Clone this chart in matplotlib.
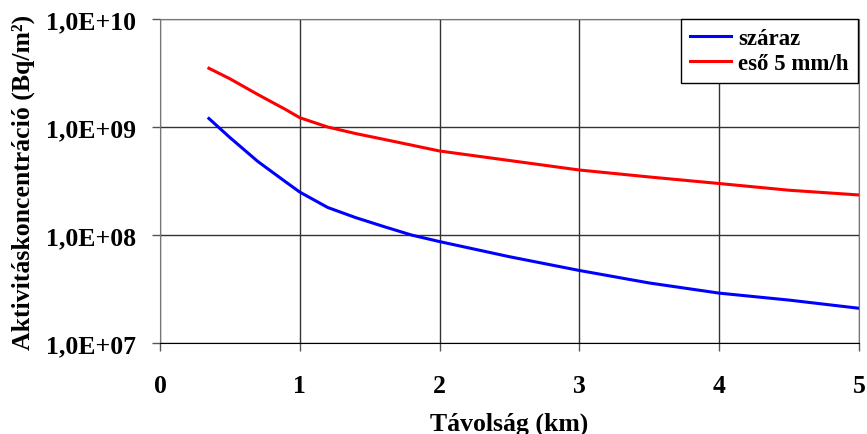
import math

import matplotlib
matplotlib.use("Agg")
import matplotlib.pyplot as plt
from matplotlib.ticker import FixedLocator, FuncFormatter, NullLocator

# distance (km) and deposited activity (Bq/m2)
distance = [0.35, 0.5, 0.7, 0.9, 1.0, 1.2, 1.4, 1.6, 1.8, 2.0, 2.5, 3.0, 3.5, 4.0, 4.5, 5.0]
dry = [1.2e9, 8.0e8, 4.8e8, 3.1e8, 2.5e8, 1.8e8, 1.45e8, 1.2e8, 1.0e8, 8.7e7,
       6.3e7, 4.7e7, 3.6e7, 2.9e7, 2.5e7, 2.1e7]
rain = [3.5e9, 2.8e9, 2.0e9, 1.45e9, 1.22e9, 1.0e9, 8.7e8, 7.7e8, 6.8e8, 6.0e8,
        4.9e8, 4.0e8, 3.45e8, 3.0e8, 2.6e8, 2.35e8]

x_ticks = [0, 1, 2, 3, 4, 5]
y_ticks = [1e7, 1e8, 1e9, 1e10]

plt.rcParams["font.family"] = ["Liberation Serif", "DejaVu Serif"]
plt.rcParams["font.weight"] = "bold"

fig = plt.figure(figsize=(8.67, 4.35), dpi=100)
ax = fig.add_axes([0.1845, 0.209, 0.8063, 0.745])

ax.plot(distance, dry, color="#0000ff", lw=2.2, label="száraz")
ax.plot(distance, rain, color="#ff0000", lw=2.2, label="eső 5 mm/h")

ax.set_yscale("log")
ax.set_xlim(0, 5)
ax.set_ylim(1e7, 1e10)
ax.xaxis.set_major_locator(FixedLocator(x_ticks))
ax.yaxis.set_major_locator(FixedLocator(y_ticks))
ax.yaxis.set_minor_locator(NullLocator())
ax.yaxis.set_major_formatter(
    FuncFormatter(lambda v, p: "1,0E+%02d" % round(math.log10(v))))

ax.grid(True, color="#333333", lw=1.0)
ax.set_axisbelow(True)
for side in ("top", "right", "left"):
    ax.spines[side].set_color("#777777")
ax.spines["bottom"].set_color("black")
ax.tick_params(axis="both", direction="out", length=6, width=1, color="#555555",
               labelsize=18.5)
ax.tick_params(axis="y", pad=11)
ax.tick_params(axis="x", pad=16)
for lbl in ax.get_xticklabels() + ax.get_yticklabels():
    lbl.set_fontweight("bold")

ax.set_xlabel("Távolság (km)", fontsize=18.5, fontweight="bold", labelpad=11)
ax.set_ylabel("Aktivitáskoncentráció (Bq/m²)", fontsize=18.5,
              fontweight="bold", labelpad=8)

leg = ax.legend(loc="upper right", bbox_to_anchor=(0.9985, 1.0),
                prop={"weight": "bold", "size": 16.5}, fancybox=False,
                framealpha=1, edgecolor="black", handlelength=1.8,
                borderaxespad=0, borderpad=0.4, labelspacing=0.15,
                handletextpad=0.3)
leg.get_frame().set_linewidth(1.0)

fig.savefig("out.png", dpi=100)
